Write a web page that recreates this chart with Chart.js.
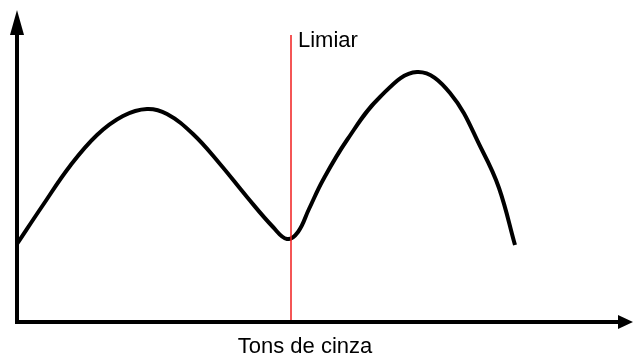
<!DOCTYPE html>
<html>
<head>
<meta charset="utf-8">
<script src="https://cdn.jsdelivr.net/npm/chart.js@4"></script>
<style>
html,body{margin:0;padding:0;background:#fff;}
canvas{display:block;}
</style>
</head>
<body>
<canvas id="c" width="633" height="358"></canvas>
<script>
// Gray-level histogram sketch (x: gray tone, y: count), arbitrary units
const histX = [0, 26, 53, 80, 106, 130, 150, 176, 203, 230, 256, 270, 281, 292, 306, 330, 363, 400, 433, 466, 482, 498];
const histY = [78, 117, 156, 187, 206, 213, 208, 188, 158, 125, 95, 83, 90, 113, 142, 182, 225, 250, 229, 170, 134, 77];
const thresholdX = 274;
const thresholdTop = 287;
const xRange = [0, 616];
const yRange = [0, 322];
const thresholdLabel = 'Limiar';
const xAxisLabel = 'Tons de cinza';

const curve = histX.map((x, i) => ({x: x, y: histY[i]}));
const thrLine = [{x: thresholdX, y: yRange[0]}, {x: thresholdX, y: thresholdTop}];

const axesPlugin = {
  id: 'axesArrows',
  afterDatasetsDraw(chart) {
    const ctx = chart.ctx;
    const xs = chart.scales.x, ys = chart.scales.y;
    const ox = xs.getPixelForValue(xRange[0]);
    const oy = ys.getPixelForValue(yRange[0]);
    ctx.save();
    ctx.strokeStyle = '#000';
    ctx.fillStyle = '#000';
    ctx.lineWidth = 4;
    // y axis
    ctx.beginPath();
    ctx.moveTo(ox, oy + 2);
    ctx.lineTo(ox, 30);
    ctx.stroke();
    ctx.beginPath();
    ctx.moveTo(ox, 10);
    ctx.lineTo(ox - 7, 35);
    ctx.lineTo(ox + 7, 35);
    ctx.closePath();
    ctx.fill();
    // x axis
    ctx.beginPath();
    ctx.moveTo(ox - 2, oy);
    ctx.lineTo(622, oy);
    ctx.stroke();
    ctx.beginPath();
    ctx.moveTo(633, oy);
    ctx.lineTo(618, oy - 7);
    ctx.lineTo(618, oy + 7);
    ctx.closePath();
    ctx.fill();
    // labels
    const tx = xs.getPixelForValue(thresholdX);
    ctx.font = '22px "Liberation Sans", Arial, sans-serif';
    ctx.textBaseline = 'alphabetic';
    ctx.textAlign = 'left';
    ctx.fillText(thresholdLabel, tx + 7, 47);
    ctx.textAlign = 'center';
    ctx.fillText(xAxisLabel, tx + 14, 353);
    ctx.restore();
  }
};

new Chart(document.getElementById('c'), {
  type: 'line',
  data: {
    datasets: [
      {
        data: curve,
        borderColor: '#000000',
        borderWidth: 4,
        pointRadius: 0,
        tension: 0.4,
        fill: false,
        clip: 6,
        order: 2
      },
      {
        data: thrLine,
        borderColor: 'rgb(240,30,30)',
        backgroundColor: 'rgb(240,30,30)',
        borderWidth: 1.5,
        pointRadius: 0,
        tension: 0,
        fill: false,
        order: 1
      }
    ]
  },
  options: {
    responsive: false,
    animation: false,
    events: [],
    layout: {padding: {left: 17, right: 0, top: 0, bottom: 36}},
    plugins: {legend: {display: false}, tooltip: {enabled: false}},
    scales: {
      x: {type: 'linear', min: xRange[0], max: xRange[1], display: false},
      y: {type: 'linear', min: yRange[0], max: yRange[1], display: false}
    }
  },
  plugins: [axesPlugin]
});
</script>
</body>
</html>
